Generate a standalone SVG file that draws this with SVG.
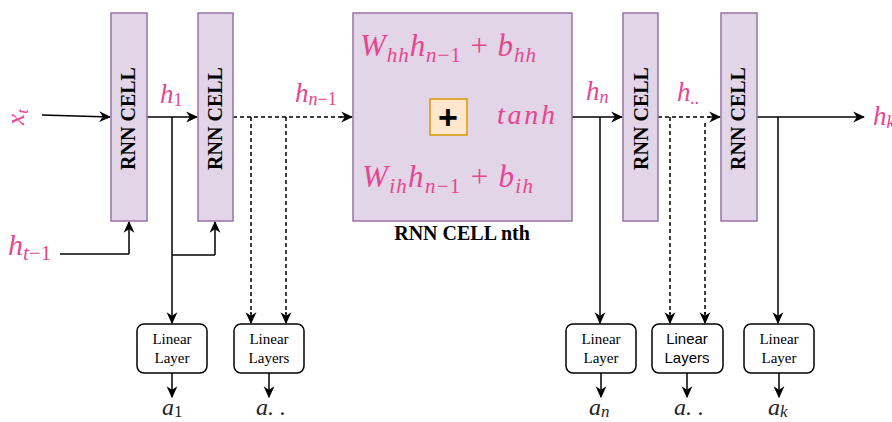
<svg xmlns="http://www.w3.org/2000/svg" width="892" height="422" viewBox="0 0 892 422">
<defs>
<marker id="ah" viewBox="0 0 10 10" refX="9" refY="5" markerWidth="12" markerHeight="12" markerUnits="userSpaceOnUse" orient="auto">
<path d="M0,0.5 L10,5 L0,9.5 L3,5 z" fill="#000"/>
</marker>
<style>
.cell{fill:#e1d5e7;stroke:#9673a6;stroke-width:1.5}
.ct{font-size:20px;font-weight:bold;fill:#000;text-anchor:middle}
.m{font-style:italic;fill:#e6468f}
.a{font-style:italic;fill:#222;font-size:24px}
.ln{fill:none;stroke:#000;stroke-width:1.5;marker-end:url(#ah)}
.pl{fill:none;stroke:#000;stroke-width:1.5}
.ds{fill:none;stroke:#000;stroke-width:1.5;stroke-dasharray:4 3}
.box{fill:#fff;stroke:#000;stroke-width:1.5}
.lt{font-size:15px;fill:#000;text-anchor:middle}
.ls{font-size:15px;fill:#000;text-anchor:middle}
.up{font-style:normal}
</style>
</defs>
<rect width="892" height="422" fill="#fff"/>

<g id="connectors">
<path class="ln" d="M42,115 L110,117"/>
<path class="pl" d="M60,254 L129,254"/>
<path class="ln" d="M129,254 L129,222"/>
<path class="ln" d="M147,117 L197,117"/>
<path class="ln" d="M172,117 L172,323"/>
<path class="pl" d="M172,255 L215,255"/>
<path class="ln" d="M215,255 L215,222"/>
<path class="ds" d="M233,117 L343,117"/>
<path class="ln" d="M340,117 L352,117"/>
<path class="ds" d="M251,117 L251,314"/>
<path class="ln" d="M251,312 L251,323"/>
<path class="ds" d="M286,117 L286,314"/>
<path class="ln" d="M286,312 L286,323"/>
<path class="ln" d="M449,65 L449,98"/>
<path class="ln" d="M449,168 L449,136"/>
<path class="ln" d="M467,117 L490,117"/>
<path class="ln" d="M572,117 L622,117"/>
<path class="ln" d="M600,117 L600,323"/>
<path class="ds" d="M658,117 L710,117"/>
<path class="ln" d="M708,117 L720,117"/>
<path class="ds" d="M670,117 L670,314"/>
<path class="ln" d="M670,312 L670,323"/>
<path class="ds" d="M705,123 L705,314"/>
<path class="ln" d="M705,312 L705,323"/>
<path class="ln" d="M757,117 L864,117"/>
<path class="ln" d="M778,117 L778,323"/>
<path class="ln" d="M172,373 L172,397"/>
<path class="ln" d="M269,373 L269,397"/>
<path class="ln" d="M601,373 L601,397"/>
<path class="ln" d="M687,373 L687,397"/>
<path class="ln" d="M779,373 L779,397"/>
</g>

<g font-family="Liberation Serif, serif">
<g id="cell1">
<rect class="cell" x="111" y="13" width="36" height="208"/>
<text class="ct" font-family="Liberation Serif, serif" transform="translate(135,118.5) rotate(-90)">RNN CELL</text>
</g>
<g id="cell2">
<rect class="cell" x="198" y="13" width="35" height="208"/>
<text class="ct" font-family="Liberation Serif, serif" transform="translate(222,118.5) rotate(-90)">RNN CELL</text>
</g>
<g id="cellN">
<rect class="cell" x="353" y="13" width="219" height="208"/>
<text class="m" font-family="Liberation Serif, serif" x="360" y="56" font-size="31" textLength="176" lengthAdjust="spacing">W<tspan dy="6" font-size="21">hh</tspan><tspan dy="-6">h</tspan><tspan dy="6" font-size="21">n</tspan><tspan class="up" font-size="21">−1</tspan><tspan class="up" dy="-6"> + </tspan>b<tspan dy="6" font-size="21">hh</tspan></text>
<text class="m" font-family="Liberation Serif, serif" x="362" y="187" font-size="31" textLength="171" lengthAdjust="spacing">W<tspan dy="6" font-size="21">ih</tspan><tspan dy="-6">h</tspan><tspan dy="6" font-size="21">n</tspan><tspan class="up" font-size="21">−1</tspan><tspan class="up" dy="-6"> + </tspan>b<tspan dy="6" font-size="21">ih</tspan></text>
<text class="m" font-family="Liberation Serif, serif" x="497" y="124" font-size="28" textLength="58" lengthAdjust="spacing">tanh</text>
<text class="ct" font-family="Liberation Serif, serif" x="462" y="240">RNN CELL nth</text>
</g>
<g id="plus">
<rect x="430" y="99" width="37" height="36" fill="#ffe6cc" stroke="#d79b00" stroke-width="1.5"/>
<text x="448" y="129" font-family="Liberation Sans, sans-serif" font-weight="bold" font-size="34" text-anchor="middle" fill="#000">+</text>
</g>
<g id="cell3">
<rect class="cell" x="623" y="13" width="35" height="208"/>
<text class="ct" font-family="Liberation Serif, serif" transform="translate(648,118.5) rotate(-90)">RNN CELL</text>
</g>
<g id="cell4">
<rect class="cell" x="721" y="13" width="36" height="208"/>
<text class="ct" font-family="Liberation Serif, serif" transform="translate(745,118.5) rotate(-90)">RNN CELL</text>
</g>

<g id="labels">
<text class="m" font-family="Liberation Serif, serif" font-size="25" transform="translate(24,117) rotate(-90)" text-anchor="middle">x<tspan dy="4" font-size="17">t</tspan></text>
<text class="m" font-family="Liberation Serif, serif" x="8" y="255" font-size="30">h<tspan dy="5" font-size="21">t</tspan><tspan class="up" font-size="21">−1</tspan></text>
<text class="m" font-family="Liberation Serif, serif" x="160" y="103" font-size="27">h<tspan class="up" dy="3" font-size="18">1</tspan></text>
<text class="m" font-family="Liberation Serif, serif" x="295" y="102" font-size="27">h<tspan dy="3" font-size="18">n</tspan><tspan class="up" font-size="18">−1</tspan></text>
<text class="m" font-family="Liberation Serif, serif" x="586" y="100" font-size="27">h<tspan dy="3" font-size="18">n</tspan></text>
<text class="m" font-family="Liberation Serif, serif" x="677" y="101" font-size="27">h<tspan dy="3" font-size="18">..</tspan></text>
<text class="m" font-family="Liberation Serif, serif" x="873" y="125" font-size="27">h<tspan dy="3" font-size="18">k</tspan></text>
</g>

<g id="lin1">
<rect class="box" x="137" y="324" width="70" height="49" rx="7"/>
<text class="lt" font-family="Liberation Serif, serif" x="172" y="344">Linear</text>
<text class="lt" font-family="Liberation Serif, serif" x="172" y="363">Layer</text>
</g>
<g id="lin2">
<rect class="box" x="234" y="324" width="70" height="49" rx="7"/>
<text class="lt" font-family="Liberation Serif, serif" x="269" y="344">Linear</text>
<text class="lt" font-family="Liberation Serif, serif" x="269" y="363">Layers</text>
</g>
<g id="lin3">
<rect class="box" x="566" y="324" width="70" height="49" rx="7"/>
<text class="lt" font-family="Liberation Serif, serif" x="601" y="344">Linear</text>
<text class="lt" font-family="Liberation Serif, serif" x="601" y="363">Layer</text>
</g>
<g id="lin4">
<rect class="box" x="652" y="324" width="71" height="49" rx="7"/>
<text class="ls" font-family="Liberation Sans, sans-serif" x="687" y="344">Linear</text>
<text class="ls" font-family="Liberation Sans, sans-serif" x="687" y="363">Layers</text>
</g>
<g id="lin5">
<rect class="box" x="744" y="324" width="70" height="49" rx="7"/>
<text class="lt" font-family="Liberation Serif, serif" x="779" y="344">Linear</text>
<text class="lt" font-family="Liberation Serif, serif" x="779" y="363">Layer</text>
</g>

<g id="outputs">
<text class="a" font-family="Liberation Serif, serif" x="162" y="415">a<tspan class="up" dy="2" font-size="17">1</tspan></text>
<text class="a" font-family="Liberation Serif, serif" x="256" y="415">a. .</text>
<text class="a" font-family="Liberation Serif, serif" x="589" y="415">a<tspan dy="2" font-size="17">n</tspan></text>
<text class="a" font-family="Liberation Serif, serif" x="674" y="415">a. .</text>
<text class="a" font-family="Liberation Serif, serif" x="768" y="415">a<tspan dy="2" font-size="17">k</tspan></text>
</g>
</g>
</svg>
